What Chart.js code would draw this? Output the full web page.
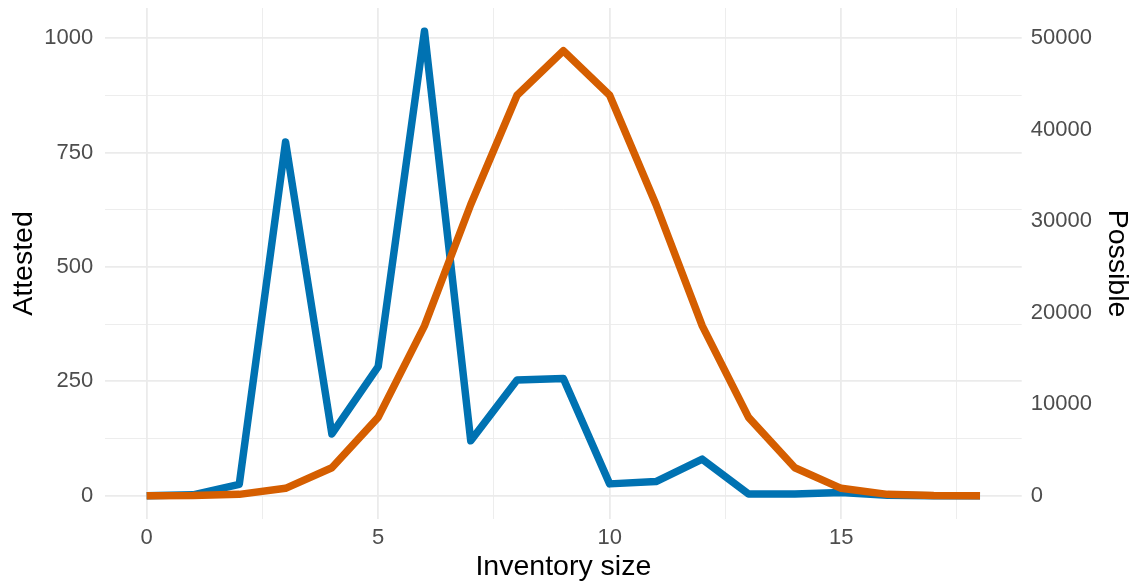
<!DOCTYPE html>
<html>
<head>
<meta charset="utf-8">
<title>Attested and possible inventories by size</title>
<script src="https://cdn.jsdelivr.net/npm/chart.js@4/dist/chart.umd.min.js"></script>
<style>
  html, body { margin: 0; padding: 0; background: #ffffff; }
  #wrap { width: 1132px; height: 585px; }
</style>
</head>
<body>
<div id="wrap"><canvas id="chart" width="1132" height="585"></canvas></div>
<script>
// Inventory sizes (x) and the two counts per size
const sizes = [0, 1, 2, 3, 4, 5, 6, 7, 8, 9, 10, 11, 12, 13, 14, 15, 16, 17, 18];
const attested = [0, 2, 25, 773, 135, 282, 1015, 120, 253, 256, 26, 31, 80, 4, 4, 7, 1, 0, 0];
const possible = [1, 18, 153, 816, 3060, 8568, 18564, 31824, 43758, 48620, 43758, 31824, 18564, 8568, 3060, 816, 153, 18, 1];

// Tick values and labels
const xMajorTicks = [0, 5, 10, 15];
const xMinorTicks = [2.5, 7.5, 12.5, 17.5];
const attestedMajorTicks = [0, 250, 500, 750, 1000];
const attestedMinorTicks = [125, 375, 625, 875];
const possibleTicks = [0, 10000, 20000, 30000, 40000, 50000];

// Secondary axis is the primary one times this factor
const secondaryFactor = 50;

const FONT = '"Liberation Sans", Arial, Helvetica, sans-serif';
const TICK_COLOR = '#4D4D4D';
const GRID_COLOR = '#EBEBEB';

// Data range padded by 5% on each side
const xMin = Math.min(...sizes), xMax = Math.max(...sizes);
const xPad = (xMax - xMin) * 0.05;
const yTop = Math.max(Math.max(...attested), Math.max(...possible) / secondaryFactor);
const yPad = yTop * 0.05;

function setTicks(values) {
  return scale => { scale.ticks = values.map(v => ({ value: v })); };
}

// Fixed axis box sizes, with no extra room reserved for edge labels
function fixBox(prop, size) {
  return scale => {
    scale[prop] = size;
    scale.paddingTop = 0;
    scale.paddingBottom = 0;
    scale.paddingLeft = 0;
    scale.paddingRight = 0;
  };
}

function majorWidth(majors) {
  return ctx => (ctx.tick && majors.includes(ctx.tick.value)) ? 1.8 : 0.9;
}

const tickFont = { family: FONT, size: 22, lineHeight: 1 };
const titleFont = { family: FONT, size: 28.5, lineHeight: 1 };

new Chart(document.getElementById('chart'), {
  type: 'line',
  data: {
    datasets: [
      {
        label: 'Possible',
        data: sizes.map((s, i) => ({ x: s, y: possible[i] })),
        yAxisID: 'y2',
        borderColor: '#D55E00',
        borderWidth: 7.5,
        borderJoinStyle: 'round',
        borderCapStyle: 'butt',
        pointRadius: 0,
        tension: 0,
        fill: false,
        order: 0
      },
      {
        label: 'Attested',
        data: sizes.map((s, i) => ({ x: s, y: attested[i] })),
        yAxisID: 'y',
        borderColor: '#0072B2',
        borderWidth: 7.5,
        borderJoinStyle: 'round',
        borderCapStyle: 'butt',
        pointRadius: 0,
        tension: 0,
        fill: false,
        order: 1
      }
    ]
  },
  options: {
    responsive: false,
    devicePixelRatio: 1,
    animation: false,
    events: [],
    layout: { padding: { top: 8, left: 0, right: 0, bottom: 0 } },
    plugins: { legend: { display: false }, tooltip: { enabled: false } },
    scales: {
      x: {
        type: 'linear',
        position: 'bottom',
        min: xMin - xPad,
        max: xMax + xPad,
        afterBuildTicks: setTicks([...xMajorTicks, ...xMinorTicks].sort((a, b) => a - b)),
        afterFit: fixBox('height', 66),
        border: { display: false },
        grid: { color: GRID_COLOR, lineWidth: majorWidth(xMajorTicks), drawTicks: false },
        ticks: {
          color: TICK_COLOR,
          font: tickFont,
          padding: 8,
          maxRotation: 0,
          autoSkip: false,
          callback: v => xMajorTicks.includes(v) ? String(v) : ''
        },
        title: {
          display: true,
          text: 'Inventory size',
          color: '#000000',
          font: titleFont,
          padding: { top: 0, bottom: 3.5 }
        }
      },
      y: {
        type: 'linear',
        position: 'left',
        min: -yPad,
        max: yTop + yPad,
        afterBuildTicks: setTicks([...attestedMajorTicks, ...attestedMinorTicks].sort((a, b) => a - b)),
        afterFit: fixBox('width', 105),
        border: { display: false },
        grid: { color: GRID_COLOR, lineWidth: majorWidth(attestedMajorTicks), drawTicks: false },
        ticks: {
          color: TICK_COLOR,
          font: tickFont,
          padding: 11.7,
          autoSkip: false,
          callback: v => attestedMajorTicks.includes(v) ? String(v) : ''
        },
        title: {
          display: true,
          text: 'Attested',
          color: '#000000',
          font: titleFont,
          padding: { top: 10, bottom: 0 }
        }
      },
      y2: {
        type: 'linear',
        position: 'right',
        min: -yPad * secondaryFactor,
        max: (yTop + yPad) * secondaryFactor,
        afterBuildTicks: setTicks(possibleTicks),
        afterFit: fixBox('width', 110.3),
        border: { display: false },
        grid: { display: false, drawTicks: false },
        ticks: {
          color: TICK_COLOR,
          font: tickFont,
          padding: 9,
          autoSkip: false,
          callback: v => String(v)
        },
        title: {
          display: true,
          text: 'Possible',
          color: '#000000',
          font: titleFont,
          padding: { top: 1, bottom: 0 }
        }
      }
    }
  }
});
</script>
</body>
</html>
